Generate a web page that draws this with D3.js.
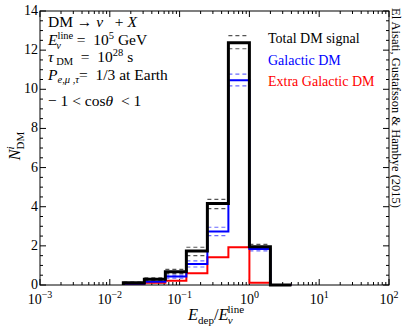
<!DOCTYPE html>
<html lang="en">
<head>
	<meta charset="utf-8">
	<title>DM neutrino signal</title>
	<script src="https://d3js.org/d3.v7.min.js"></script>
	<style>
	body { margin: 0; background: #fff; }
	svg text { font-family: "Liberation Serif", "DejaVu Serif", serif; }
	.frame { fill: none; stroke: black; stroke-width: 1px; }
	.tick { stroke: black; stroke-width: 1px; }
	</style>
</head>
<body>
	<script>
		// bin edges (E_dep / E_line) and bin contents
		var edges    = [1/64, 1/32, 1/16, 1/8, 1/4, 1/2, 1, 2, 4];
		var total    = [0.12, 0.30, 0.68, 1.74, 4.17, 12.38, 1.96, 0];
		var totalHi  = [0.15, 0.36, 0.80, 1.93, 4.38, 12.74, 2.08, 0];
		var totalLo  = [0.10, 0.25, 0.58, 1.50, 3.90, 12.07, 1.86, 0];
		var galactic = [0.06, 0.16, 0.43, 1.07, 2.73, 10.46, 1.84, 0];
		var galHi    = [0.08, 0.20, 0.50, 1.23, 2.95, 10.77, 1.93, 0];
		var galLo    = [0.05, 0.12, 0.35, 0.92, 2.52, 10.17, 1.74, 0];
		var extra    = [0.05, 0.12, 0.22, 0.60, 1.42, 1.93, 0.12, 0];

		var yTicks = [0, 2, 4, 6, 8, 10, 12, 14];
		var xExps  = [-3, -2, -1, 0, 1, 2];

		var w = 407, h = 329;
		var pLeft = 40, pRight = 389, pTop = 11, pBottom = 285;
		var serif = "Liberation Serif, DejaVu Serif, serif";

		var svg = d3.select("body").append("svg")
			.attr("width", w)
			.attr("height", h)
			.attr("font-family", serif);

		var x = d3.scaleLog().domain([1e-3, 1e2]).range([pLeft, pRight]);
		var y = d3.scaleLinear().domain([0, 14]).range([pBottom, pTop]);

		// ticks on all four sides, pointing inward
		var g = svg.append("g");
		var minorY = d3.range(0, 14.01, 0.5);
		minorY.forEach(function(v) {
			var len = (v % 2 === 0) ? 6 : 3;
			g.append("line").attr("class", "tick")
				.attr("x1", pLeft).attr("x2", pLeft + len)
				.attr("y1", y(v)).attr("y2", y(v));
			g.append("line").attr("class", "tick")
				.attr("x1", pRight).attr("x2", pRight - len)
				.attr("y1", y(v)).attr("y2", y(v));
		});
		xExps.forEach(function(e) {
			for (var m = 1; m <= 9; m++) {
				var v = m * Math.pow(10, e);
				if (v > 100) break;
				var len = (m === 1) ? 6 : 3;
				g.append("line").attr("class", "tick")
					.attr("x1", x(v)).attr("x2", x(v))
					.attr("y1", pBottom).attr("y2", pBottom - len);
				g.append("line").attr("class", "tick")
					.attr("x1", x(v)).attr("x2", x(v))
					.attr("y1", pTop).attr("y2", pTop + len);
			}
		});

		// tick labels
		yTicks.forEach(function(v) {
			svg.append("text")
				.attr("x", pLeft - 2).attr("y", y(v) + 4)
				.attr("text-anchor", "end")
				.attr("font-size", 14)
				.text(v);
		});
		xExps.forEach(function(e) {
			var t = svg.append("text")
				.attr("x", x(Math.pow(10, e))).attr("y", 304)
				.attr("text-anchor", "middle")
				.attr("font-size", 14);
			t.append("tspan").text("10");
			t.append("tspan").attr("dy", -6).attr("font-size", 10).text(e < 0 ? "\u2212" + (-e) : e);
		});

		// step line helpers
		function stepPoints(vals) {
			var pts = [[edges[0], 0]];
			vals.forEach(function(v, i) {
				pts.push([edges[i], v]);
				pts.push([edges[i + 1], v]);
			});
			pts.push([edges[edges.length - 1], 0]);
			return pts;
		}
		var line = d3.line()
			.x(function(d) { return x(d[0]); })
			.y(function(d) { return y(d[1]); });

		function dashedBins(vals, color) {
			vals.forEach(function(v, i) {
				if (v === 0) return;
				svg.append("line")
					.attr("x1", x(edges[i])).attr("x2", x(edges[i + 1]))
					.attr("y1", y(v)).attr("y2", y(v))
					.attr("stroke", color)
					.attr("stroke-width", 1.2)
					.attr("stroke-dasharray", "4,3");
			});
		}

		dashedBins(galHi, "#6a6aff");
		dashedBins(galLo, "#6a6aff");
		dashedBins(totalHi, "#555");
		dashedBins(totalLo, "#555");

		svg.append("path").datum(stepPoints(extra))
			.attr("d", line).attr("fill", "none")
			.attr("stroke", "#ff0000").attr("stroke-width", 2);
		svg.append("path").datum(stepPoints(galactic))
			.attr("d", line).attr("fill", "none")
			.attr("stroke", "#0000ff").attr("stroke-width", 2);
		svg.append("path").datum(stepPoints(total))
			.attr("d", line).attr("fill", "none")
			.attr("stroke", "black").attr("stroke-width", 3);

		svg.append("rect").attr("class", "frame")
			.attr("x", pLeft).attr("y", pTop)
			.attr("width", pRight - pLeft).attr("height", pBottom - pTop);

		// axis titles
		var xt = svg.append("text")
			.attr("x", 216).attr("y", 320)
			.attr("text-anchor", "middle")
			.attr("font-size", 16.5);
		xt.append("tspan").attr("font-style", "italic").text("E");
		xt.append("tspan").attr("dy", 4).attr("font-size", 11).text("dep");
		xt.append("tspan").attr("dy", -4).text("/");
		xt.append("tspan").attr("font-style", "italic").text("E");
		xt.append("tspan").attr("font-size", 11).attr("font-style", "italic").attr("dy", 4).attr("dx", -1).text("\u03bd");
		xt.append("tspan").attr("font-size", 11).attr("dy", -11).attr("dx", -5).text("line");

		var yt = svg.append("text")
			.attr("transform", "translate(20,146) rotate(-90)")
			.attr("text-anchor", "middle")
			.attr("font-size", 16);
		yt.append("tspan").attr("font-style", "italic").text("N");
		yt.append("tspan").attr("font-style", "italic").attr("font-size", 11).attr("dy", -6).text("i");
		yt.append("tspan").attr("font-size", 11).attr("dy", 10).attr("dx", -3).text("DM");

		// parameter text block
		var info = svg.append("g").attr("font-size", 15.5);
		var t1 = info.append("text").attr("x", 48).attr("y", 27);
		t1.append("tspan").text("DM \u2192 ");
		t1.append("tspan").attr("font-style", "italic").text("\u03bd");
		t1.append("tspan").text("\u00a0\u00a0\u00a0+ ");
		t1.append("tspan").attr("font-style", "italic").text("X");

		var t2 = info.append("text").attr("x", 48).attr("y", 45);
		t2.append("tspan").attr("font-style", "italic").text("E");
		t2.append("tspan").attr("font-size", 10.5).attr("dy", -6).text("line");
		t2.append("tspan").attr("font-size", 10.5).attr("font-style", "italic").attr("dy", 10).attr("dx", -17).text("\u03bd");
		t2.append("tspan").attr("dy", -4).attr("dx", 12).text("\u00a0=\u00a0\u00a010");
		t2.append("tspan").attr("font-size", 10.5).attr("dy", -6).text("5");
		t2.append("tspan").attr("dy", 6).text(" GeV");

		var t3 = info.append("text").attr("x", 48).attr("y", 62);
		t3.append("tspan").attr("font-style", "italic").text("\u03c4");
		t3.append("tspan").attr("font-size", 10.5).attr("dy", 3).text("\u00a0DM");
		t3.append("tspan").attr("dy", -3).text("\u00a0\u00a0=\u00a0\u00a010");
		t3.append("tspan").attr("font-size", 10.5).attr("dy", -6).text("28");
		t3.append("tspan").attr("dy", 6).text(" s");

		var t4 = info.append("text").attr("x", 48).attr("y", 80);
		t4.append("tspan").attr("font-style", "italic").text("P");
		t4.append("tspan").attr("font-size", 10.5).attr("font-style", "italic").attr("dy", 3).text("e,\u03bc ,\u03c4");
		t4.append("tspan").attr("dy", -3).text("= \u00a01/3 at Earth");

		var t5 = info.append("text").attr("x", 48).attr("y", 106);
		t5.append("tspan").text("\u2212 1 < cos");
		t5.append("tspan").attr("font-style", "italic").text("\u03b8");
		t5.append("tspan").text("\u00a0\u00a0< 1");

		// legend
		var legendNames  = ["Total DM signal", "Galactic DM", "Extra Galactic DM"];
		var legendColors = ["black", "#0000ff", "#ff0000"];
		legendNames.forEach(function(n, i) {
			svg.append("text")
				.attr("x", 268).attr("y", 43 + i * 21.5)
				.attr("font-family", serif)
				.attr("font-size", 14)
				.attr("fill", legendColors[i])
				.text(n);
		});

		// credit on the right side
		svg.append("text")
			.attr("transform", "translate(392,8) rotate(90)")
			.attr("font-family", serif)
			.attr("font-size", 12.5)
			.text("El Aisati, Gustafsson & Hambye (2015)");
	</script>
</body>
</html>
